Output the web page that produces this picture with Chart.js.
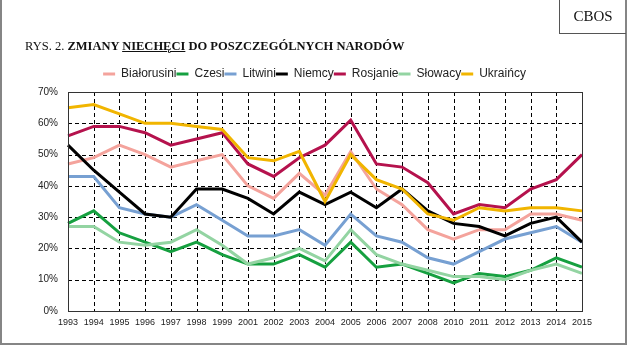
<!DOCTYPE html>
<html>
<head>
<meta charset="utf-8">
<script src="https://cdn.jsdelivr.net/npm/chart.js@4"></script>
<style>
  html, body { margin: 0; padding: 0; background: #fff; }
  #page { position: relative; width: 629px; height: 348px; overflow: hidden; background: #fff; }
  #frame { position: absolute; left: 0; top: 0; width: 623px; height: 343px;
           border-left: 2px solid #858585; border-right: 2px solid #858585; border-bottom: 2px solid #858585; }
  #cbos { position: absolute; left: 559px; top: 0; width: 66px; height: 33px;
          border-left: 1px solid #555; border-bottom: 1px solid #555;
          font: 15px "Liberation Serif", "Times New Roman", serif; color: #111;
          line-height: 33px; text-align: center; }
  #title { position: absolute; left: 25px; top: 39px; font: 12.5px "Liberation Serif", "Times New Roman", serif;
           color: #111; white-space: nowrap; line-height: 14px; }
  #title b u { text-decoration-thickness: 1px; }
  #wrap { position: absolute; left: 0; top: 0; width: 629px; height: 348px; }
</style>
</head>
<body>
<div id="page">
  <div id="wrap"><canvas id="c"></canvas></div>
  <div id="frame"></div>
  <div id="cbos">CBOS</div>
  <div id="title">RYS. 2. <b>ZMIANY <u>NIECHĘCI</u> DO POSZCZEGÓLNYCH NARODÓW</b></div>
</div>
<script>
const years = ['1993','1994','1995','1996','1997','1998','1999','2001','2002','2003','2004','2005','2006','2007','2008','2010','2011','2012','2013','2014','2015'];
const yTicks = [0, 10, 20, 30, 40, 50, 60, 70];

const bialorusini = [47,49,53,50,46,48,50,40,36,44,37,51,39,34,26,23,26,26,31,31,29];
const czesi       = [28,32,25,22,19,22,18,15,15,18,14,22,14,15,12, 9,12,11,13,17,14];
const litwini     = [43,43,33,31,30,34,29,24,24,26,21,31,24,22,17,15,19,23,25,27,22];
const niemcy      = [53,45,38,31,30,39,39,36,31,38,34,38,33,39,32,28,27,24,28,30,22];
const rosjanie    = [56,59,59,57,53,55,57,47,43,49,53,61,47,46,41,31,34,33,39,42,50];
const slowacy     = [27,27,22,21,22,26,21,15,17,20,16,26,18,15,13,11,11,10,13,15,12];
const ukraincy    = [65,66,63,60,60,59,58,49,48,51,35,50,42,39,31,29,33,32,33,33,32];

const seriesNames = ['Białorusini','Czesi','Litwini','Niemcy','Rosjanie','Słowacy','Ukraińcy'];
const seriesData  = [bialorusini, czesi, litwini, niemcy, rosjanie, slowacy, ukraincy];
const seriesColors = ['#F4A39C','#16A040','#77A0D2','#000000','#B5124D','#93D4A2','#F1B500'];

const datasets = seriesNames.map((name, i) => ({
  label: name,
  data: seriesData[i],
  borderColor: seriesColors[i],
  backgroundColor: seriesColors[i],
  borderWidth: 3,
  pointRadius: 0,
  tension: 0,
  fill: false,
  order: -i,
  yAxisID: 'y'
}));

// dashed grid drawn at the library's own tick positions, plus a solid plot frame
const dashedGrid = {
  id: 'dashedGrid',
  beforeDatasetsDraw(chart) {
    const a = chart.chartArea, ctx = chart.ctx;
    const xs = chart.scales.x, ys = chart.scales.y;
    ctx.save();
    ctx.strokeStyle = '#000';
    ctx.lineWidth = 1;
    ctx.setLineDash([4, 3]);
    ys.ticks.forEach((t, i) => {
      const y = Math.round(ys.getPixelForTick(i)) + 0.5;
      ctx.beginPath(); ctx.moveTo(a.left, y); ctx.lineTo(a.right, y); ctx.stroke();
    });
    xs.ticks.forEach((t, i) => {
      const x = Math.round(xs.getPixelForTick(i)) + 0.5;
      ctx.beginPath(); ctx.moveTo(x, a.top); ctx.lineTo(x, a.bottom); ctx.stroke();
    });
    ctx.restore();
  },
  afterDraw(chart) {
    const a = chart.chartArea, ctx = chart.ctx;
    ctx.save();
    ctx.strokeStyle = '#333';
    ctx.lineWidth = 1;
    ctx.setLineDash([]);
    ctx.strokeRect(Math.round(a.left) + 0.5, Math.round(a.top) + 0.5, Math.round(a.right - a.left), Math.round(a.bottom - a.top));
    ctx.restore();
  }
};

new Chart(document.getElementById('c'), {
  type: 'line',
  data: { labels: years, datasets },
  options: {
    responsive: true,
    maintainAspectRatio: false,
    animation: false,
    layout: { padding: { top: 68, left: 0, right: 0, bottom: 17 } },
    plugins: {
      tooltip: { enabled: false },
      title: { display: false },
      subtitle: { display: true, text: '', position: 'top', weight: 500, padding: 0,
                  font: { size: 2, lineHeight: 1 } },
      legend: {
        position: 'top',
        labels: {
          boxWidth: 12,
          boxHeight: 3,
          padding: 0,
          color: '#222',
          font: { family: 'Liberation Sans, Arial, sans-serif', size: 12 },
          sort: (a, b) => a.datasetIndex - b.datasetIndex,
          generateLabels(chart) {
            const items = Chart.defaults.plugins.legend.labels.generateLabels(chart);
            items.forEach(it => { it.lineWidth = 0; it.fillStyle = it.strokeStyle; });
            return items;
          }
        }
      }
    },
    scales: {
      x: {
        offset: false,
        grid: { display: false, drawTicks: false },
        border: { display: false },
        ticks: { color: '#222', padding: 6, maxRotation: 0, autoSkip: false,
                 font: { family: 'Liberation Sans, Arial, sans-serif', size: 9 } },
        afterFit(scale) { scale.height = 20; }
      },
      y: {
        position: 'left',
        min: 0, max: 70,
        afterBuildTicks(scale) { scale.ticks = yTicks.map(v => ({ value: v })); },
        grid: { display: false, drawTicks: false },
        border: { display: false },
        ticks: { color: '#222', padding: 10, callback: v => v + '%',
                 font: { family: 'Liberation Sans, Arial, sans-serif', size: 10 } },
        afterFit(scale) { scale.width = 68; }
      },
      yRight: {
        position: 'right',
        display: true,
        grid: { display: false, drawTicks: false },
        border: { display: false },
        ticks: { display: false },
        afterFit(scale) { scale.width = 47; }
      }
    }
  },
  plugins: [dashedGrid]
});
</script>
</body>
</html>
